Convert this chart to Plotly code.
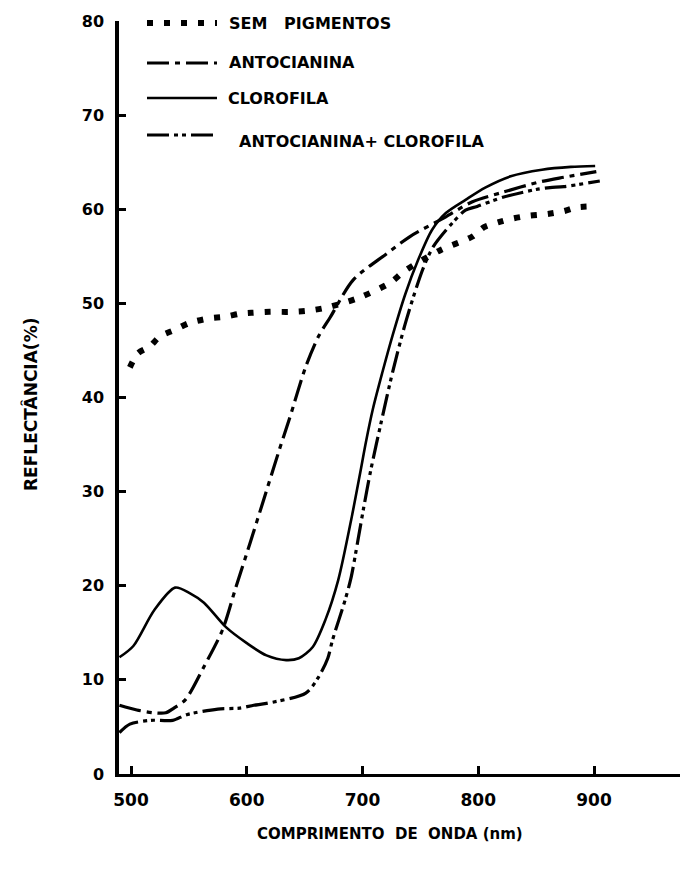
import plotly.graph_objects as go

# ---------------- data ----------------
SEM_WL = [499, 506, 516, 525, 538, 550, 567, 582, 594, 604, 620, 637, 651, 667,
          697, 724, 737, 768, 795, 805, 817, 829, 843, 860, 874, 885, 898]
SEM_R = [43.2, 44.7, 45.4, 46.5, 47.2, 47.9, 48.4, 48.6, 48.9, 49.0, 49.1, 49.1, 49.2, 49.5,
         50.6, 52.2, 53.5, 55.7, 57.1, 58.1, 58.6, 59.0, 59.3, 59.5, 59.8, 60.2, 60.3]

ANT_WL = [490, 505, 520, 530, 537, 547, 563, 579, 590, 603, 614, 628, 637, 651, 662,
          672, 692, 720, 741, 763, 772, 795, 821, 853, 874, 902]
ANT_R = [7.3, 6.8, 6.5, 6.5, 7.0, 7.9, 11.4, 15.3, 19.6, 24.6, 28.9, 34.4, 37.8, 43.3, 46.5,
         48.5, 52.5, 55.2, 57.1, 58.6, 59.2, 60.8, 61.8, 62.9, 63.4, 64.0]

CLO_WL = [490, 502, 520, 538, 551, 563, 582, 600, 617, 634, 645, 657, 668, 679, 691,
          698, 703, 709, 717, 726, 737, 748, 760, 772, 789, 806, 828, 855, 880, 901]
CLO_R = [12.4, 13.6, 17.4, 19.8, 19.2, 18.2, 15.6, 13.9, 12.6, 12.1, 12.3, 13.5, 16.4, 20.6, 27.5,
         32.0, 35.3, 38.8, 42.6, 46.6, 51.0, 54.6, 57.8, 59.6, 61.0, 62.3, 63.5, 64.2, 64.5, 64.6]

AC_WL = [490, 499, 517, 536, 548, 575, 594, 606, 617, 651, 662, 670, 674, 685, 690, 696,
         701, 707, 716, 726, 738, 752, 761, 778, 789, 799,
         822, 850, 862, 874, 905]
AC_R = [4.4, 5.3, 5.7, 5.7, 6.3, 6.9, 7.0, 7.3, 7.5, 8.6, 10.3, 12.3, 14.2, 18.5, 20.8, 24.8,
        28.3, 32.2, 37.3, 42.7, 48.3, 53.6, 56.0, 58.6, 59.9, 60.3,
        61.3, 62.1, 62.3, 62.4, 63.0]

SERIES_NAMES = ["SEM\u00a0\u00a0\u00a0PIGMENTOS", "ANTOCIANINA", "CLOROFILA",
                "ANTOCIANINA+\u00a0CLOROFILA"]

X_TICKS = [500, 600, 700, 800, 900]
Y_TICKS = [0, 10, 20, 30, 40, 50, 60, 70, 80]

# ---------------- styling ----------------
W, H = 680, 870
ML, MR, MT, MB = 119, 0, 21, 96
PW, PH = W - ML - MR, H - MT - MB
FONT = "DejaVu Sans"

DOT = "6px,11px"
DASHDOT = "22px,6px,5px,6px"
DASHDOTDOT = "22px,5px,4px,4px,4px,5px"

styles = [
    dict(width=6, dash=DOT),
    dict(width=3.2, dash=DASHDOT),
    dict(width=2.6, dash="solid"),
    dict(width=3.2, dash=DASHDOTDOT),
]

fig = go.Figure()
for wl, r, name, st in zip([SEM_WL, ANT_WL, CLO_WL, AC_WL], [SEM_R, ANT_R, CLO_R, AC_R],
                           SERIES_NAMES, styles):
    fig.add_trace(go.Scatter(x=wl, y=r, mode="lines", name=name, showlegend=False,
                             line=dict(color="black", width=st["width"], dash=st["dash"],
                                       shape="spline", smoothing=0.8)))


def px2paper(px, py):
    return (px - ML) / PW, (H - MB - py) / PH


# hand-made legend (samples + labels) like the original figure
legend_rows = [  # (sample y px, text x px, text y px)
    (23, 227, 24),
    (63, 227, 63),
    (98, 226, 98),
    (135, 237, 142),
]
shapes = []
annotations = []
for (sy, tx, ty), name, st in zip(legend_rows, SERIES_NAMES, styles):
    x0, y0 = px2paper(147, sy)
    x1, _ = px2paper(217, sy)
    shapes.append(dict(type="line", xref="paper", yref="paper", x0=x0, x1=x1, y0=y0, y1=y0,
                       line=dict(color="black", width=st["width"], dash=st["dash"])))
    ax, ay = px2paper(tx, ty)
    annotations.append(dict(xref="paper", yref="paper", x=ax, y=ay, text=name,
                            showarrow=False, xanchor="left", yanchor="middle",
                            font=dict(family=FONT, size=16, color="black", weight="bold")))

# axis titles
tx, ty = px2paper(390, 834)
annotations.append(dict(xref="paper", yref="paper", x=tx, y=ty,
                        text="COMPRIMENTO\u00a0 DE\u00a0 ONDA (nm)", showarrow=False,
                        xanchor="center", yanchor="middle",
                        font=dict(family=FONT, size=15, color="black", weight="bold")))
tx, ty = px2paper(30, 405)
annotations.append(dict(xref="paper", yref="paper", x=tx, y=ty,
                        text="REFLECTÂNCIA(%)", showarrow=False, textangle=-90,
                        xanchor="center", yanchor="middle",
                        font=dict(family=FONT, size=17, color="black", weight="bold")))

fig.update_layout(
    width=W, height=H,
    margin=dict(l=ML, r=MR, t=MT, b=MB, pad=0),
    paper_bgcolor="white", plot_bgcolor="white",
    shapes=shapes, annotations=annotations,
    xaxis=dict(range=[489.6, 974.3], tickvals=X_TICKS, ticktext=[str(v) for v in X_TICKS],
               showgrid=False, zeroline=False, showline=True, linecolor="black", linewidth=2.5,
               ticks="inside", ticklen=8, tickwidth=2.5, tickcolor="black",
               ticklabelstandoff=9,
               tickfont=dict(family=FONT, size=17, color="black", weight="bold")),
    yaxis=dict(range=[0, 80], tickvals=Y_TICKS, ticktext=[str(v) for v in Y_TICKS],
               showgrid=False, zeroline=False, showline=True, linecolor="black", linewidth=3.5,
               ticks="inside", ticklen=7, tickwidth=2.5, tickcolor="black",
               ticklabelstandoff=8,
               tickfont=dict(family=FONT, size=16, color="black", weight="bold")),
)

fig.write_html("out.html")
